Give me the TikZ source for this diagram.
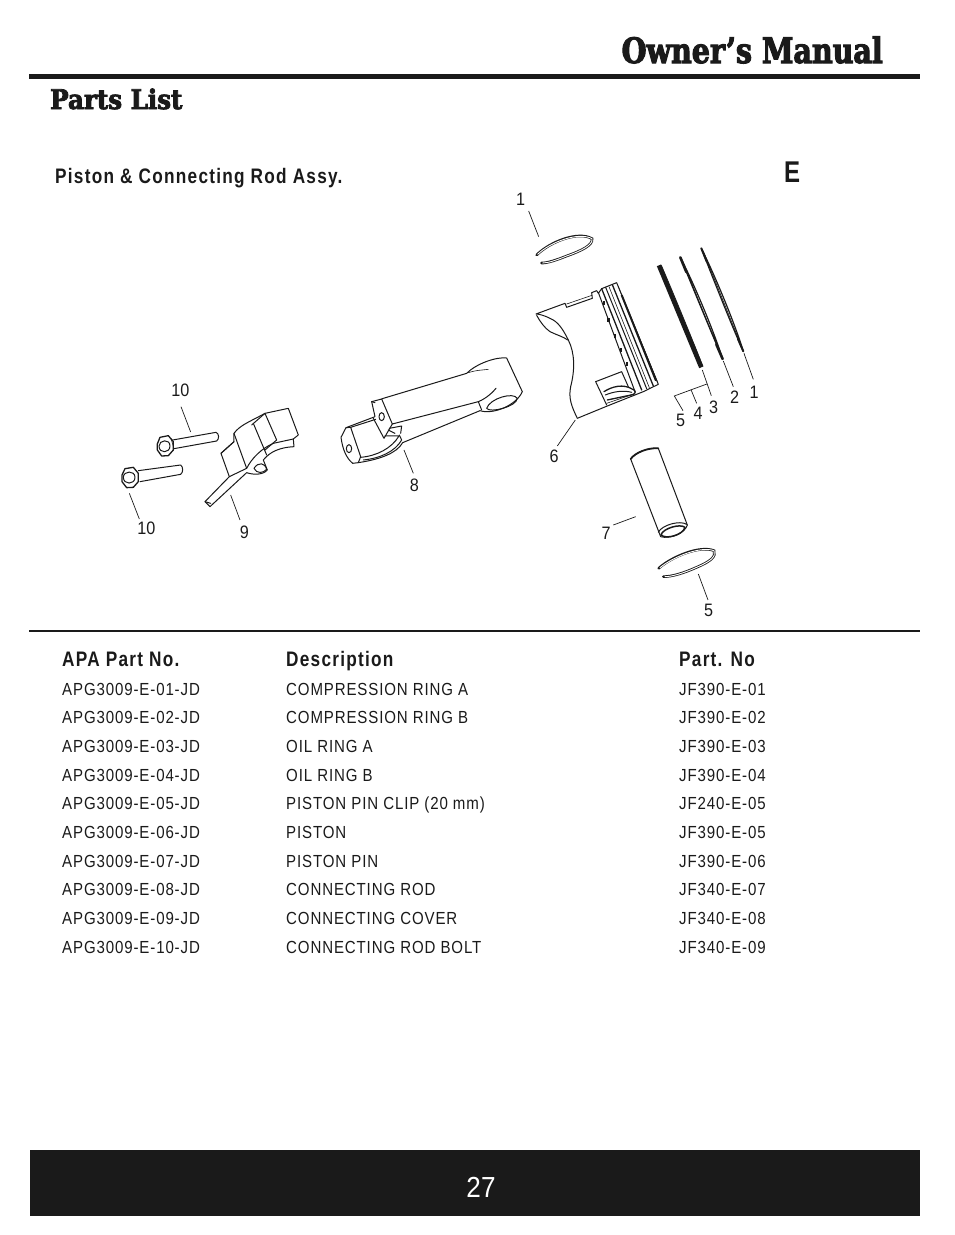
\documentclass[tikz,border=0pt]{standalone}
\usepackage{fontspec}
\setmainfont{Liberation Sans}
\newfontfamily\slabfont[UprightFont=* Bold,FakeBold=3,FakeStretch=0.815]{DejaVu Serif}
\newfontfamily\slabsmall[UprightFont=* Bold,FakeBold=3,FakeStretch=0.91]{DejaVu Serif}
\newfontfamily\condfont[FakeStretch=0.86,LetterSpace=5]{Liberation Sans}
\newfontfamily\condbold[UprightFont=* Bold,FakeStretch=0.82,LetterSpace=6]{Liberation Sans}
\newfontfamily\narrowfont[FakeStretch=0.9]{Liberation Sans}
\newfontfamily\letterfont[UprightFont=* Bold,FakeStretch=0.8]{Liberation Sans}
\definecolor{ink}{HTML}{1A1A1A}
\tikzset{
  cell/.style={anchor=base west,inner sep=0pt,text=ink,font=\condfont\fontsize{17.5}{20}\selectfont},
  head/.style={anchor=base west,inner sep=0pt,text=ink,font=\condbold\fontsize{21}{24}\selectfont},
  num/.style={inner sep=0pt,text=ink,font=\narrowfont\fontsize{18}{20}\selectfont},
  lead/.style={draw=ink,line width=0.7pt},
  part/.style={draw=ink,line width=1pt,line join=round,line cap=round},
  fine/.style={draw=ink,line width=0.6pt,line join=round,line cap=round},
}
\begin{document}
\begin{tikzpicture}[x=1pt,y=-1pt]
\useasboundingbox (0,0) rectangle (954,1235);
% page furniture
\node[anchor=base east,inner sep=0pt,text=ink,font=\slabfont\fontsize{35}{38}\selectfont] (title) at (883,63) {Owner’s Manual};
\node[anchor=base west,inner sep=0pt,text=ink,font=\slabsmall\fontsize{27}{30}\selectfont] (parts) at (50,109) {Parts List};
\fill[ink] (29,74) rectangle (920,79);
\fill[ink] (29,630) rectangle (920,632);
\node[head] (assy) at (55,183) {Piston \& Connecting Rod Assy.};
\node[inner sep=0pt,text=ink,font=\letterfont\fontsize{30}{32}\selectfont] (letter) at (792,172) {E};
\fill[ink] (30,1150) rectangle (920,1216);
\node[inner sep=0pt,text=white,font=\narrowfont\fontsize{29}{32}\selectfont] (page) at (481,1187) {27};

% table
\node[head] (h1) at (62,666) {APA Part No.};
\node[head] (h2) at (286,666) {Description};
\node[head] (h3) at (679,666) {Part. No};
\foreach \n/\y/\a/\b/\c in {
 1/695/APG3009-E-01-JD/COMPRESSION RING A/JF390-E-01,
 2/723/APG3009-E-02-JD/COMPRESSION RING B/JF390-E-02,
 3/752/APG3009-E-03-JD/OIL RING A/JF390-E-03,
 4/781/APG3009-E-04-JD/OIL RING B/JF390-E-04,
 5/809/APG3009-E-05-JD/PISTON PIN CLIP (20 mm)/JF240-E-05,
 6/838/APG3009-E-06-JD/PISTON/JF390-E-05,
 7/867/APG3009-E-07-JD/PISTON PIN/JF390-E-06,
 8/895/APG3009-E-08-JD/CONNECTING ROD/JF340-E-07,
 9/924/APG3009-E-09-JD/CONNECTING COVER/JF340-E-08,
 10/953/APG3009-E-10-JD/CONNECTING ROD BOLT/JF340-E-09}{
  \node[cell] (a\n) at (62,\y) {\a};
  \node[cell] (b\n) at (286,\y) {\b};
  \node[cell] (c\n) at (679,\y) {\c};
}

% piston, rings: zoom frame 1
\begin{scope}[shift={(500,190)},scale=0.3333]
  % top ring
  \draw[draw=ink,line width=2.6pt,line cap=round] (110,195) .. controls (150,155) and (235,122) .. (276,146) .. controls (280,165) and (245,182) .. (200,198) .. controls (170,210) and (140,220) .. (124,219);
  \draw[draw=white,line width=0.9pt,line cap=round] (113,193) .. controls (150,157) and (235,124) .. (276,146) .. controls (280,165) and (245,182) .. (200,198) .. controls (170,210) and (145,219) .. (128,219);
  % side rings
  \draw[part,line width=1.2pt,fill=white] (604,175) .. controls (635,255) and (696,410) .. (730,484) .. controls (708,410) and (647,260) .. (604,175) -- cycle;
  \draw[draw=ink,line width=0.7pt] (609,182) -- (728,478);
  \draw[draw=ink,line width=2pt,line cap=round] (604,175) -- (620,214);
  \draw[draw=ink,line width=2pt,line cap=round] (714,447) -- (730,484);
  \draw[part,line width=1.2pt,fill=white] (541,202) .. controls (573,280) and (635,430) .. (668,507) .. controls (644,430) and (582,280) .. (541,202) -- cycle;
  \draw[draw=ink,line width=0.8pt] (546,210) -- (665,500);
  \draw[draw=ink,line width=2.6pt,line cap=round] (541,202) -- (559,246);
  \draw[draw=ink,line width=2.6pt,line cap=round] (649,463) -- (668,507);
  \draw[draw=ink,line width=4.6pt,dash pattern=on 1.2pt off 0.25pt] (477,226) -- (604,532);
  \draw[draw=ink,line width=0.8pt] (484,226) .. controls (516,300) and (582,460) .. (608,528);
  % piston body
  \draw[part,fill=white] (108,372) -- (195,340) -- (200,352) -- (277,325) -- (275,308) -- (290,302) -- (295,310) -- (305,296) -- (350,278) -- (475,583) -- (430,605) -- (322,648) -- (232,685) .. controls (215,650) and (205,625) .. (212,590) .. controls (225,540) and (225,490) .. (205,450) .. controls (190,420) and (175,395) .. (150,385) .. controls (130,375) and (115,372) .. (108,372) -- cycle;
  \draw[part] (110,376) .. controls (120,395) and (135,415) .. (150,425) .. controls (170,435) and (190,440) .. (203,450);
  \draw[fine] (200,342) -- (276,316);
  % bands
  \draw[part] (296,310) -- (405,605);
  \draw[part,line width=1.3pt] (305,296) -- (425,600);
  \draw[part] (317,292) -- (440,596);
  \draw[fine] (327,290) -- (448,593);
  \draw[part,line width=1.3pt] (337,284) -- (460,588);
  \draw[draw=ink,line width=2pt] (365,315) -- (468,572);
  \draw[fine] (355,290) -- (472,575);
  % dots in the land
  \foreach \p in {(312,340),(325,390),(345,437),(362,480),(380,522)}
    \fill[ink] \p ++(-3,-6) rectangle ++(7,12);
  % boss window
  \draw[part] (287,575) -- (365,545) -- (385,590);
  \draw[part] (287,575) -- (320,645);
  \draw[part,line width=1.3pt] (312,605) .. controls (335,590) and (370,580) .. (398,598) .. controls (408,600) and (408,612) .. (398,614) -- (322,630);
  \draw[part] (316,615) .. controls (340,605) and (370,600) .. (395,607);
  \draw[fine] (320,640) -- (402,612);
  % leaders
  \coordinate (l1a) at (86,63); \coordinate (l1b) at (116,140);
  \draw[lead] (l1a) -- (l1b);
  \coordinate (r1a) at (732,490); \coordinate (r1b) at (760,568);
  \draw[lead] (r1a) -- (r1b);
  \coordinate (r2a) at (670,513); \coordinate (r2b) at (700,590);
  \draw[lead] (r2a) -- (r2b);
  \coordinate (r3a) at (607,540); \coordinate (r3b) at (634,617);
  \coordinate (j1) at (621,582); \coordinate (j2) at (523,618); \coordinate (j3) at (573,599);
  \coordinate (j4) at (549,662); \coordinate (j5) at (590,640);
  \draw[lead] (r3a) -- (r3b);
  \draw[lead] (j1) -- (j2) -- (j4);
  \draw[lead] (j3) -- (j5);
  \coordinate (p6a) at (226,690); \coordinate (p6b) at (172,768);
  \draw[lead] (p6a) -- (p6b);
\end{scope}

% connecting rod: zoom frame 3
\begin{scope}[shift={(330,350)},scale=0.3333]
  \draw[part,fill=white] (160,145) -- (410,70) .. controls (440,40) and (500,20) .. (530,24) -- (577,125) .. controls (560,165) and (490,195) .. (450,182) -- (218,278) .. controls (200,310) and (150,328) .. (85,338) -- (68,340) .. controls (50,325) and (38,300) .. (33,262) -- (48,233) -- (135,200) -- (125,155) -- (155,147) -- cycle;
  \draw[part] (155,147) -- (187,222) -- (162,265) -- (130,205);
  \draw[part] (125,155) -- (135,158);
  \draw[part] (48,233) -- (62,232) -- (92,320) -- (85,338);
  \draw[part] (62,232) -- (137,208);
  \draw[part] (92,322) .. controls (140,318) and (185,295) .. (207,258) -- (165,258);
  \draw[part] (100,330) .. controls (150,325) and (195,305) .. (215,270) -- (208,255);
  \draw[part] (187,222) -- (445,155) -- (455,180);
  \draw[part] (178,235) -- (215,228) -- (212,250);
  \draw[part] (175,240) -- (195,250);
  \draw[part] (445,155) .. controls (470,145) and (490,125) .. (498,115);
  \draw[fine] (415,68) .. controls (440,60) and (460,60) .. (475,58);
  \draw[part] (470,175) .. controls (480,145) and (550,125) .. (562,145) .. controls (560,170) and (480,190) .. (470,175) -- cycle;
  \draw[part] (155,200) ellipse [x radius=8,y radius=12];
  \draw[part] (57,296) ellipse [x radius=8,y radius=12];
  \coordinate (p8a) at (222,300); \coordinate (p8b) at (250,370);
  \draw[lead] (p8a) -- (p8b);
\end{scope}

% cap and bolts: zoom frame 2
\begin{scope}[shift={(110,370)},scale=0.3333]
  \draw[part,fill=white] (285,395) -- (358,320) -- (333,250) -- (372,215) -- (372,190) .. controls (390,165) and (420,155) .. (465,130) -- (535,115) -- (565,195) -- (550,207) -- (552,230) .. controls (510,232) and (480,245) .. (460,270) -- (472,300) .. controls (460,315) and (430,315) .. (410,308) -- (300,410) -- cycle;
  \draw[part] (358,320) -- (410,295) -- (372,190);
  \draw[part] (333,250) -- (372,215);
  \draw[part] (410,295) .. controls (425,265) and (455,235) .. (490,220) -- (550,207);
  \draw[part] (430,160) -- (470,255);
  \draw[part] (425,165) -- (465,130) -- (500,210) -- (465,240);
  \draw[part] (432,295) .. controls (445,275) and (465,278) .. (470,298) .. controls (460,310) and (440,312) .. (432,295) -- cycle;
  \draw[part] (285,395) -- (302,400);
  % upper bolt
  \draw[part,fill=white] (188,210) -- (318,187) .. controls (328,190) and (328,208) .. (320,213) -- (192,236);
  \draw[part,line width=1.3pt,fill=white] (142,222) -- (150,202) -- (175,197) -- (190,215) -- (190,240) -- (175,257) -- (155,258) -- (142,240) -- cycle;
  \draw[part,fill=white] (147,228) .. controls (147,210) and (180,205) .. (180,228) .. controls (180,250) and (147,252) .. (147,228) -- cycle;
  \draw[fine] (183,205) -- (192,236);
  % lower bolt
  \draw[part,fill=white] (85,302) -- (212,285) .. controls (220,290) and (220,308) .. (212,313) -- (90,335);
  \draw[part,line width=1.3pt,fill=white] (36,315) -- (45,296) -- (70,292) -- (85,310) -- (85,335) -- (70,352) -- (50,353) -- (36,335) -- cycle;
  \draw[part,fill=white] (40,322) .. controls (40,302) and (75,300) .. (75,322) .. controls (75,345) and (40,345) .. (40,322) -- cycle;
  % leaders
  \coordinate (p10a) at (213,110); \coordinate (p10b) at (242,186);
  \draw[lead] (p10a) -- (p10b);
  \coordinate (p11a) at (58,370); \coordinate (p11b) at (88,447);
  \draw[lead] (p11a) -- (p11b);
  \coordinate (p9a) at (362,375); \coordinate (p9b) at (390,450);
  \draw[lead] (p9a) -- (p9b);
\end{scope}

% pin and clip: zoom frame 4
\begin{scope}[shift={(590,440)},scale=0.3333]
  \draw[part,line width=1pt] (122,57) .. controls (135,38) and (175,22) .. (205,25) -- (292,255) .. controls (285,280) and (240,298) .. (212,290) -- cycle;
  \draw[part,line width=1.8pt] (122,57) .. controls (135,38) and (175,22) .. (205,25);
  \draw[part] (205,277) .. controls (215,255) and (270,240) .. (290,253);
  \draw[part,line width=1.5pt] (213,284) .. controls (220,265) and (270,250) .. (285,262) .. controls (280,285) and (225,300) .. (213,284) -- cycle;
  \draw[draw=ink,line width=2.6pt,line cap=round] (206,385) .. controls (245,350) and (330,315) .. (372,332) .. controls (380,350) and (360,365) .. (320,382) .. controls (280,400) and (245,410) .. (220,410);
  \draw[draw=white,line width=0.9pt,line cap=round] (210,383) .. controls (248,352) and (330,317) .. (372,332) .. controls (380,350) and (360,365) .. (320,382) .. controls (280,400) and (245,410) .. (225,410);
  \coordinate (p7a) at (70,255); \coordinate (p7b) at (137,230);
  \draw[lead] (p7a) -- (p7b);
  \coordinate (p5a) at (325,402); \coordinate (p5b) at (354,480);
  \draw[lead] (p5a) -- (p5b);
\end{scope}

% part numbers
\node[num] (n1a) at (520.5,199) {1};
\node[num] (n1b) at (754,392) {1};
\node[num] (n2) at (734.5,397) {2};
\node[num] (n3) at (713.5,407) {3};
\node[num] (n4) at (698,413) {4};
\node[num] (n5a) at (680.5,420) {5};
\node[num] (n6) at (554,456) {6};
\node[num] (n7) at (606,533) {7};
\node[num] (n5b) at (708.5,610) {5};
\node[num] (n8) at (414.5,485) {8};
\node[num] (n9) at (244.5,532) {9};
\node[num] (n10a) at (180.5,390) {10};
\node[num] (n10b) at (146.5,528) {10};
\end{tikzpicture}
\end{document}
